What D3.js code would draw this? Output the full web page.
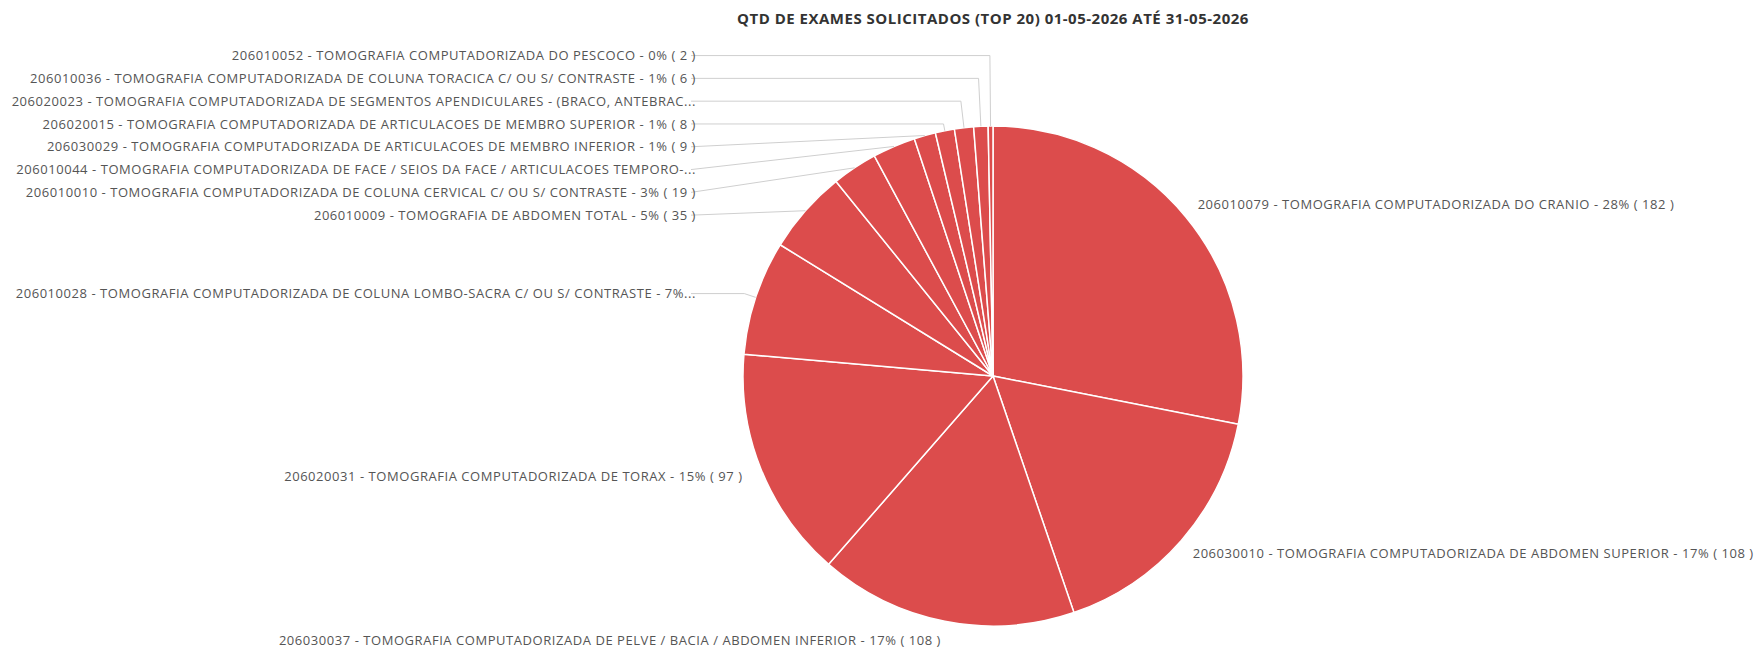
<!DOCTYPE html>
<html>
<head>
<meta charset="utf-8">
<script src="https://cdn.jsdelivr.net/npm/d3@7"></script>
<style>
  html, body { margin: 0; padding: 0; background: #ffffff; }
  svg text { font-family: "Segoe UI", "Open Sans", "Noto Sans", sans-serif; }
</style>
</head>
<body>
<svg id="chart" width="1762" height="650"></svg>
<script>
// ---------------- data ----------------
const title = "QTD DE EXAMES SOLICITADOS (TOP 20) 01-05-2026 ATÉ 31-05-2026";
const codes = ["206010079","206030010","206030037","206020031","206010028","206010009",
               "206010010","206010044","206030029","206020015","206020023","206010036","206010052"];
const names = [
  "TOMOGRAFIA COMPUTADORIZADA DO CRANIO",
  "TOMOGRAFIA COMPUTADORIZADA DE ABDOMEN SUPERIOR",
  "TOMOGRAFIA COMPUTADORIZADA DE PELVE / BACIA / ABDOMEN INFERIOR",
  "TOMOGRAFIA COMPUTADORIZADA DE TORAX",
  "TOMOGRAFIA COMPUTADORIZADA DE COLUNA LOMBO-SACRA C/ OU S/ CONTRASTE",
  "TOMOGRAFIA DE ABDOMEN TOTAL",
  "TOMOGRAFIA COMPUTADORIZADA DE COLUNA CERVICAL C/ OU S/ CONTRASTE",
  "TOMOGRAFIA COMPUTADORIZADA DE FACE / SEIOS DA FACE / ARTICULACOES TEMPORO-MANDIBULARES",
  "TOMOGRAFIA COMPUTADORIZADA DE ARTICULACOES DE MEMBRO INFERIOR",
  "TOMOGRAFIA COMPUTADORIZADA DE ARTICULACOES DE MEMBRO SUPERIOR",
  "TOMOGRAFIA COMPUTADORIZADA DE SEGMENTOS APENDICULARES - (BRACO, ANTEBRACO, MAO, COXA, PERNA, PE)",
  "TOMOGRAFIA COMPUTADORIZADA DE COLUNA TORACICA C/ OU S/ CONTRASTE",
  "TOMOGRAFIA COMPUTADORIZADA DO PESCOCO"
];
const values = [182, 108, 108, 97, 48, 35, 19, 18, 9, 8, 8, 6, 2];

// ---------------- layout ----------------
const W = 1762, H = 650;
const cx = 993, cy = 376, r = 250;
const sliceColor = "#DC4C4C";
const textColor = "#555555";
const lineColor = "#cfcfcf";
const fontSize = 13;
const letterSp = 0.55;
const labelGap = 22.8;

const svg = d3.select("#chart");
const total = d3.sum(values);
const data = values.map((v, i) => ({
  code: codes[i], name: names[i], value: v,
  label: `${codes[i]} - ${names[i]} - ${Math.round(v / total * 100)}% ( ${v} )`
}));

const pie = d3.pie().sort(null).value(d => d.value);
const arcs = pie(data);
const arcGen = d3.arc().innerRadius(0).outerRadius(r);

svg.append("text")
  .attr("x", cx).attr("y", 24)
  .attr("text-anchor", "middle")
  .attr("font-size", 15).attr("font-weight", "bold")
  .attr("letter-spacing", 0.5)
  .attr("fill", "#333333")
  .text(title);

const g = svg.append("g").attr("transform", `translate(${cx},${cy})`);
g.selectAll("path.slice").data(arcs).enter().append("path")
  .attr("class", "slice")
  .attr("d", arcGen)
  .attr("fill", sliceColor)
  .attr("stroke", "#ffffff")
  .attr("stroke-width", 1.5)
  .attr("stroke-linejoin", "round");

// label positions
arcs.forEach(a => {
  a.mid = (a.startAngle + a.endAngle) / 2;
  a.small = (a.endAngle - a.startAngle) < 0.55;
  a.left = Math.sin(a.mid) < 0;
  a.ax = cx + Math.sin(a.mid) * r;
  a.ay = cy - Math.cos(a.mid) * r;
  if (!a.small) {
    const rx = a.left ? r + 20 : r + 15;
    a.lx = cx + Math.sin(a.mid) * rx;
    a.ly = cy - Math.cos(a.mid) * (r + 20);
  } else {
    a.ly = cy - Math.cos(a.mid) * (r + 12);
  }
});

// resolve overlaps among small labels on each side (pool-adjacent-violators)
function spread(items) {
  items.sort((a, b) => a.ly - b.ly);
  const z = items.map((it, i) => it.ly - i * labelGap);
  const blocks = [];
  z.forEach((v, i) => {
    blocks.push({ sum: v, n: 1, start: i });
    while (blocks.length > 1) {
      const b = blocks[blocks.length - 1], p = blocks[blocks.length - 2];
      if (p.sum / p.n > b.sum / b.n) {
        p.sum += b.sum; p.n += b.n; blocks.pop();
      } else break;
    }
  });
  blocks.forEach(b => {
    for (let k = 0; k < b.n; k++) {
      const i = b.start + k;
      items[i].ly = b.sum / b.n + i * labelGap;
    }
  });
}
const smallLeft = arcs.filter(a => a.small && a.left);
const smallRight = arcs.filter(a => a.small && !a.left);
spread(smallLeft); spread(smallRight);
const colOffset = r + 47;
smallLeft.forEach(a => { a.lx = cx - colOffset; });
smallRight.forEach(a => { a.lx = cx + colOffset; });

// leader lines for small slices
const lineGen = d3.line();
arcs.filter(a => a.small).forEach(a => {
  const dir = a.left ? -1 : 1;
  const startX = a.lx + dir * 5;
  const pts = [[startX, a.ly]];
  const c = Math.cos(a.mid);
  if (c > 0 && a.ly < a.ay) {
    const t = Math.min((a.ay - a.ly) / c, 140);
    pts.push([a.ax + Math.sin(a.mid) * t, a.ay - c * t]);
  }
  pts.push([a.ax, a.ay]);
  svg.append("path")
    .attr("d", lineGen(pts))
    .attr("fill", "none")
    .attr("stroke", lineColor)
    .attr("stroke-width", 1);
});

// labels (truncated with "..." when they do not fit)
const labels = svg.append("g");
arcs.forEach(a => {
  const t = labels.append("text")
    .attr("x", a.lx).attr("y", a.ly)
    .attr("dy", "0.35em")
    .attr("font-size", fontSize)
    .attr("letter-spacing", letterSp)
    .attr("fill", textColor)
    .attr("text-anchor", a.left ? "end" : "start")
    .text(a.data.label);
  const maxW = a.left ? a.lx - 10 : W - a.lx - 2;
  const node = t.node();
  if (node.getComputedTextLength() > maxW) {
    let s = a.data.label;
    while (s.length > 1) {
      s = s.slice(0, -1);
      t.text(s.trimEnd() + "...");
      if (node.getComputedTextLength() <= maxW) break;
    }
  }
});
</script>
</body>
</html>
